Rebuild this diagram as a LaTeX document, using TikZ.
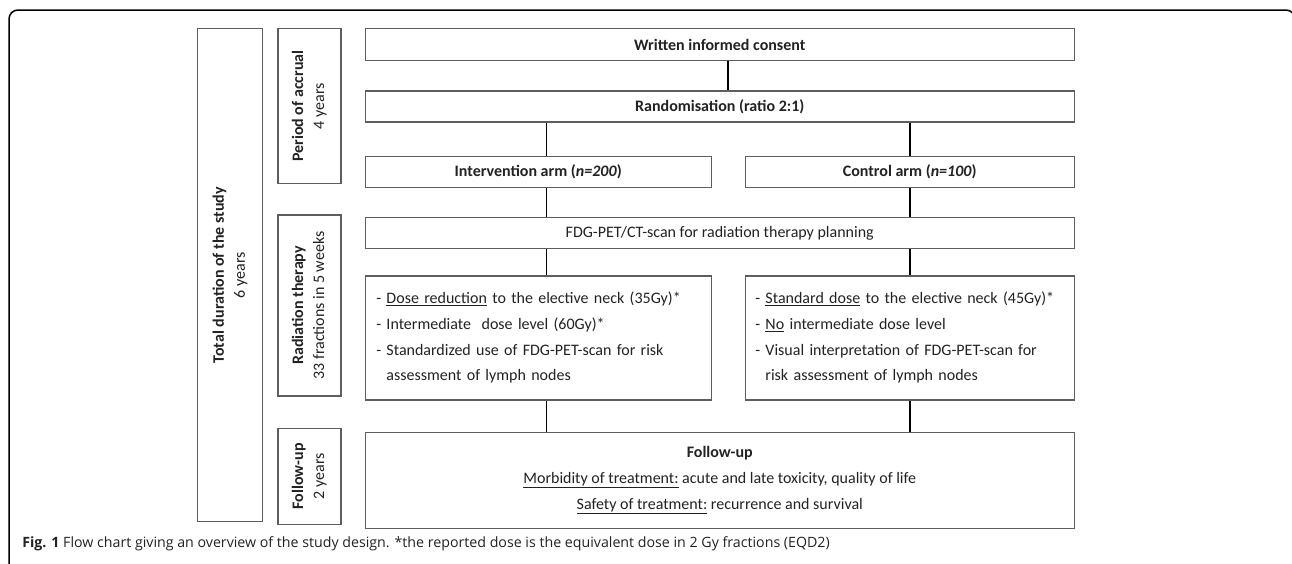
\documentclass[tikz,border=0pt]{standalone}
\usepackage{fontspec}
\setmainfont{Carlito}
\newfontfamily\captionfont{Open Sans}
\usepackage{tikz}
\usetikzlibrary{positioning}
\definecolor{boxgray}{HTML}{5E5E5E}
\definecolor{textgray}{HTML}{222222}

\begin{document}
\begin{tikzpicture}[-, semithick, x=1pt, y=1pt, node distance=30pt, font=\fontsize{16}{25.7}\selectfont, text=textgray]
\tikzstyle{box}=[draw=boxgray, line width=1.3pt, rectangle, inner sep=0pt]
\tikzstyle{side}=[box, minimum width=63pt, font=\fontsize{16}{21}\selectfont]
\tikzstyle{link}=[draw=black, line width=1.5pt]

\useasboundingbox (0,0) rectangle (1292,-563);
\draw[line width=1.5pt, rounded corners=9pt] (9,-570) -- (9,-10) -- (1295,-10) -- (1295,-570);

% periods on the left
\node[side, minimum width=65pt, minimum height=493pt, anchor=north west] (total) at (197,-28) {\rotatebox{90}{\begin{tabular}{@{}c@{}}\textbf{Total duration of the study}\\6 years\end{tabular}}};
\node[side, minimum height=155pt]   (accrual)[right =14pt of total.north east, anchor = north west] {\rotatebox{90}{\begin{tabular}{@{}c@{}}\textbf{Period of accrual}\\4 years\end{tabular}}};
\node[side, minimum height=181pt]   (radio)[below =30pt of accrual] {\rotatebox{90}{\begin{tabular}{@{}c@{}}\textbf{Radiation therapy}\\33 fractions in 5 weeks\end{tabular}}};
\node[side, minimum height=96pt]    (fup)[below =31pt of radio] {\rotatebox{90}{\begin{tabular}{@{}c@{}}\textbf{Follow-up}\\2 years\end{tabular}}};

% study flow
\node[box, minimum width=709pt, minimum height=32pt]   (consent)[right =23pt of accrual.north east, anchor = north west] {\textbf{Written informed consent}};
\node[box, minimum width=709pt, minimum height=31pt]   (random)[below =29pt of consent] {\textbf{Randomisation (ratio 2:1)}};

\node[box, minimum width=346pt, minimum height=31pt]   (inter)[below =33pt of random.south west, anchor = north west] {\textbf{Intervention arm (\textit{n=200})}};
\node[box, minimum width=329pt, minimum height=31pt]   (control)[below =33pt of random.south east, anchor = north east] {\textbf{Control arm (\textit{n=100})}};

\node[box, minimum width=709pt, minimum height=31pt]   (fdg)[below =29pt of inter.south west, anchor = north west] {FDG-PET/CT-scan for radiation therapy planning};

\node[box, minimum height=124pt, text width=324pt, inner xsep=11pt, align=left]   (interdet)[below =26pt of fdg.south west, anchor = north west] {- \underline{Dose reduction} to the elective neck (35Gy)*\\- Intermediate~ dose level (60Gy)*\\- Standardized use of FDG-PET-scan for risk\\\phantom{-~}assessment of lymph nodes};
\node[box, minimum height=124pt, text width=309pt, inner xsep=10pt, align=left]   (controldet)[below =26pt of fdg.south east, anchor = north east] {- \underline{Standard dose} to the elective neck (45Gy)*\\- \underline{No} intermediate dose level\\- Visual interpretation of FDG-PET-scan for\\\phantom{-~}risk assessment of lymph nodes};

\node[box, minimum width=709pt, minimum height=96pt, align=center]   (followup)[below =31pt of interdet.south west, anchor = north west] {\textbf{Follow-up}\\\underline{Morbidity of treatment:} acute and late toxicity, quality of life\\\underline{Safety of treatment:} recurrence and survival};

\node[anchor=base west, inner sep=0pt, font=\captionfont\fontsize{14.2}{18}\selectfont] (caption) at (22,-547) {\textbf{Fig. 1} Flow chart giving an overview of the study design. *the reported dose is the equivalent dose in 2 Gy fractions (EQD2)};

\path[link]
([xshift=8pt]consent.south) edge ([xshift=8pt]random.north)

([xshift=8pt]inter.north |- random.south) edge ([xshift=8pt]inter.north)
(control.north |- random.south) edge (control.north)

([xshift=8pt]inter.south) edge ([xshift=8pt]inter.south |- fdg.north)
(control.south) edge (control.south |- fdg.north)

([xshift=8pt]interdet.north |- fdg.south) edge ([xshift=8pt]interdet.north)
(controldet.north |- fdg.south) edge (controldet.north)

([xshift=8pt]interdet.south) edge ([xshift=8pt]interdet.south |- followup.north)
(controldet.south) edge (controldet.south |- followup.north);

\end{tikzpicture}
\end{document}
